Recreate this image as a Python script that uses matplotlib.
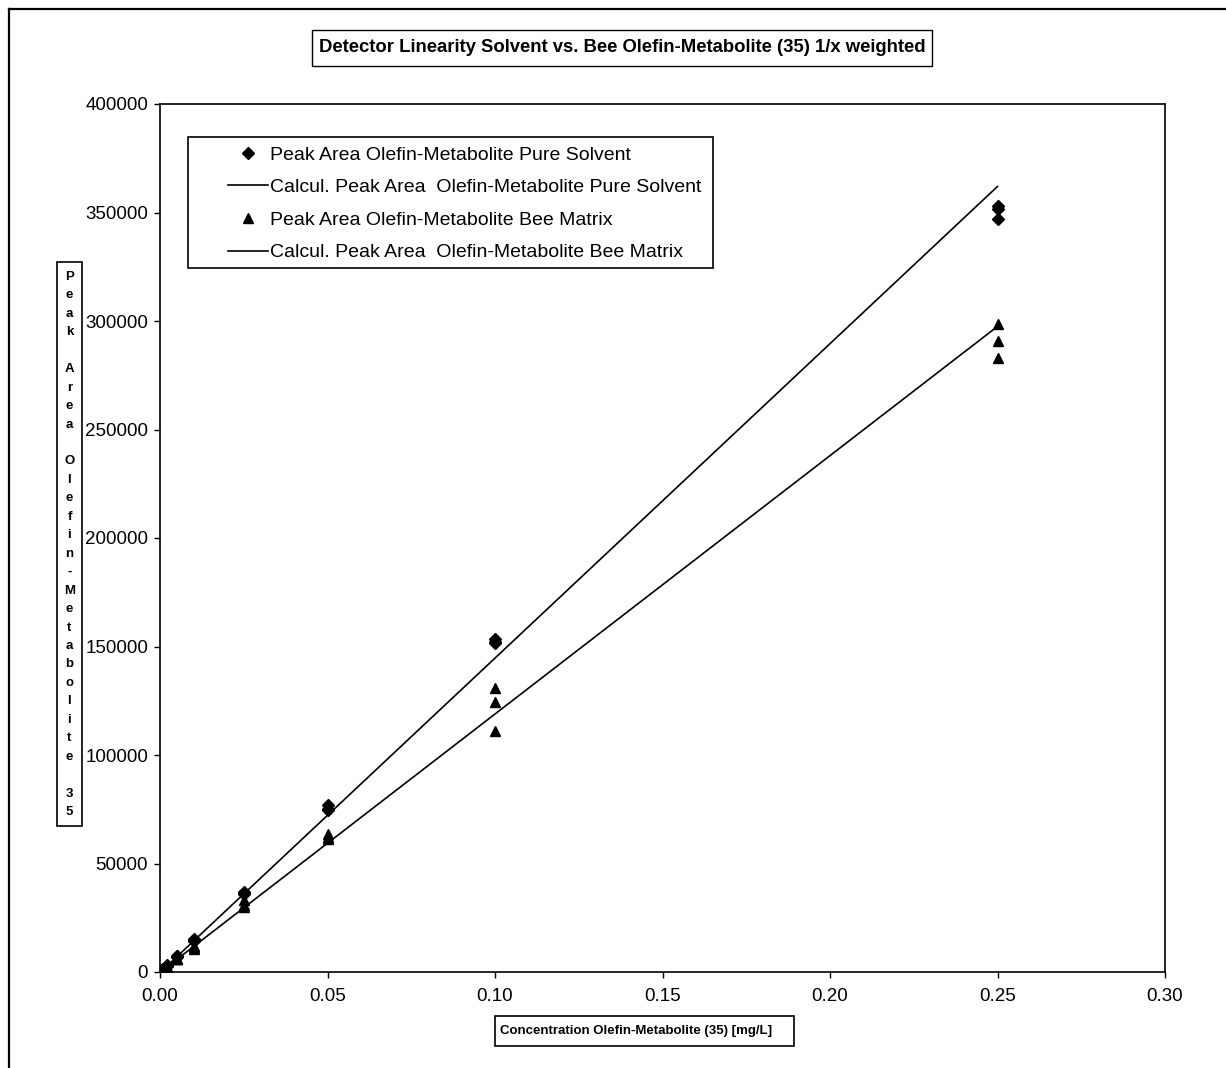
import matplotlib
matplotlib.use("Agg")
import matplotlib.pyplot as plt
from matplotlib.lines import Line2D
from matplotlib.patches import Rectangle
import numpy as np

plt.rcParams['font.family'] = ['Liberation Sans', 'DejaVu Sans']

# concentrations [mg/L], triplicate injections
conc = [0.001, 0.001, 0.001, 0.002, 0.002, 0.002, 0.005, 0.005, 0.005,
        0.01, 0.01, 0.01, 0.025, 0.025, 0.025, 0.05, 0.05, 0.05,
        0.1, 0.1, 0.1, 0.25, 0.25, 0.25]

# peak areas, pure solvent
solvent_area = [1500, 1400, 1450, 2900, 3000, 2850, 7200, 7400, 7000,
                14800, 15200, 14500, 36500, 36000, 37000, 77000, 75000, 74500,
                153500, 152000, 151800, 353000, 351500, 347000]

# peak areas, bee matrix
bee_area = [1100, 1200, 1150, 2400, 2300, 2350, 5800, 6000, 5900,
            10500, 11500, 12000, 33000, 30000, 31000, 63500, 62000, 61500,
            131000, 124500, 111000, 298500, 291000, 283000]

# calculated (1/x weighted) fit lines, read at the ends
calc_conc = [0.001, 0.25]
calc_solvent = [1200, 362000]
calc_bee = [1000, 297500]

x_ticks = [0.0, 0.05, 0.10, 0.15, 0.20, 0.25, 0.30]
x_ticklabels = ['0.00', '0.05', '0.10', '0.15', '0.20', '0.25', '0.30']
y_ticks = [0, 50000, 100000, 150000, 200000, 250000, 300000, 350000, 400000]

W, H = 1226, 1068
fig = plt.figure(figsize=(W / 100, H / 100), dpi=100)
ax = fig.add_axes([160 / W, 1 - 972 / H, (1165 - 160) / W, (972 - 104) / H])

ax.plot(conc, solvent_area, linestyle='none', marker='D', ms=6, color='black',
        label='Peak Area Olefin-Metabolite Pure Solvent')
ax.plot(calc_conc, calc_solvent, color='black', lw=1.2,
        label='Calcul. Peak Area  Olefin-Metabolite Pure Solvent')
ax.plot(conc, bee_area, linestyle='none', marker='^', ms=7.5, color='black',
        label='Peak Area Olefin-Metabolite Bee Matrix')
ax.plot(calc_conc, calc_bee, color='black', lw=1.2,
        label='Calcul. Peak Area  Olefin-Metabolite Bee Matrix')

ax.set_xlim(0, 0.30)
ax.set_ylim(0, 400000)
ax.set_xticks(x_ticks)
ax.set_xticklabels(x_ticklabels)
ax.set_yticks(y_ticks)
ax.set_yticklabels([str(v) for v in y_ticks])
ax.tick_params(direction='out', length=4.5, width=1, labelsize=13.5, pad=4)
ax.tick_params(axis='x', pad=7)
for sp in ax.spines.values():
    sp.set_linewidth(1.2)

# legend, with its frame drawn separately
leg = fig.legend(loc='upper left', bbox_to_anchor=(228 / W, 1 - 146 / H),
                 fontsize=14, frameon=False,
                 handlelength=2.05, handletextpad=0.1, borderpad=0,
                 labelspacing=0.77, borderaxespad=0)
fig.patches.append(Rectangle((188 / W, 1 - 268 / H), (713 - 188) / W, (268 - 137) / H,
                             transform=fig.transFigure, fill=False,
                             ec='black', lw=1.2))

# title in a box
fig.patches.append(Rectangle((312 / W, 1 - 66 / H), (932 - 312) / W, 36 / H,
                             transform=fig.transFigure, fill=False,
                             ec='black', lw=1.0))
fig.text(622 / W, 1 - 48 / H,
         'Detector Linearity Solvent vs. Bee Olefin-Metabolite (35) 1/x weighted',
         ha='center', va='center', fontsize=13.3, fontweight='bold')

# x label in a box
fig.patches.append(Rectangle((495 / W, 1 - 1046 / H), (794 - 495) / W, 30 / H,
                             transform=fig.transFigure, fill=False,
                             ec='black', lw=1.2))
fig.text(500 / W, 1 - 1031 / H, 'Concentration Olefin-Metabolite (35) [mg/L]',
         ha='left', va='center', fontsize=9.5, fontweight='bold')

# y label, stacked letters in a box
fig.patches.append(Rectangle((57 / W, 1 - 826 / H), 25 / W, (826 - 262) / H,
                             transform=fig.transFigure, fill=False,
                             ec='black', lw=1.2))
ylab = 'Peak Area Olefin-Metabolite 35'
n = len(ylab)
for i, ch in enumerate(ylab):
    ypix = 277 + i * (812 - 277) / (n - 1)
    fig.text(69.5 / W, 1 - ypix / H, ch, ha='center', va='center',
             fontsize=9.5, fontweight='bold')

# outer chart frame (left and top edges visible)
fig.add_artist(Line2D([9 / W, 9 / W], [0, 1 - 9 / H], transform=fig.transFigure,
                      color='black', lw=1.6))
fig.add_artist(Line2D([9 / W, 1], [1 - 9 / H, 1 - 9 / H], transform=fig.transFigure,
                      color='black', lw=1.6))

fig.savefig('out.png', dpi=100)
